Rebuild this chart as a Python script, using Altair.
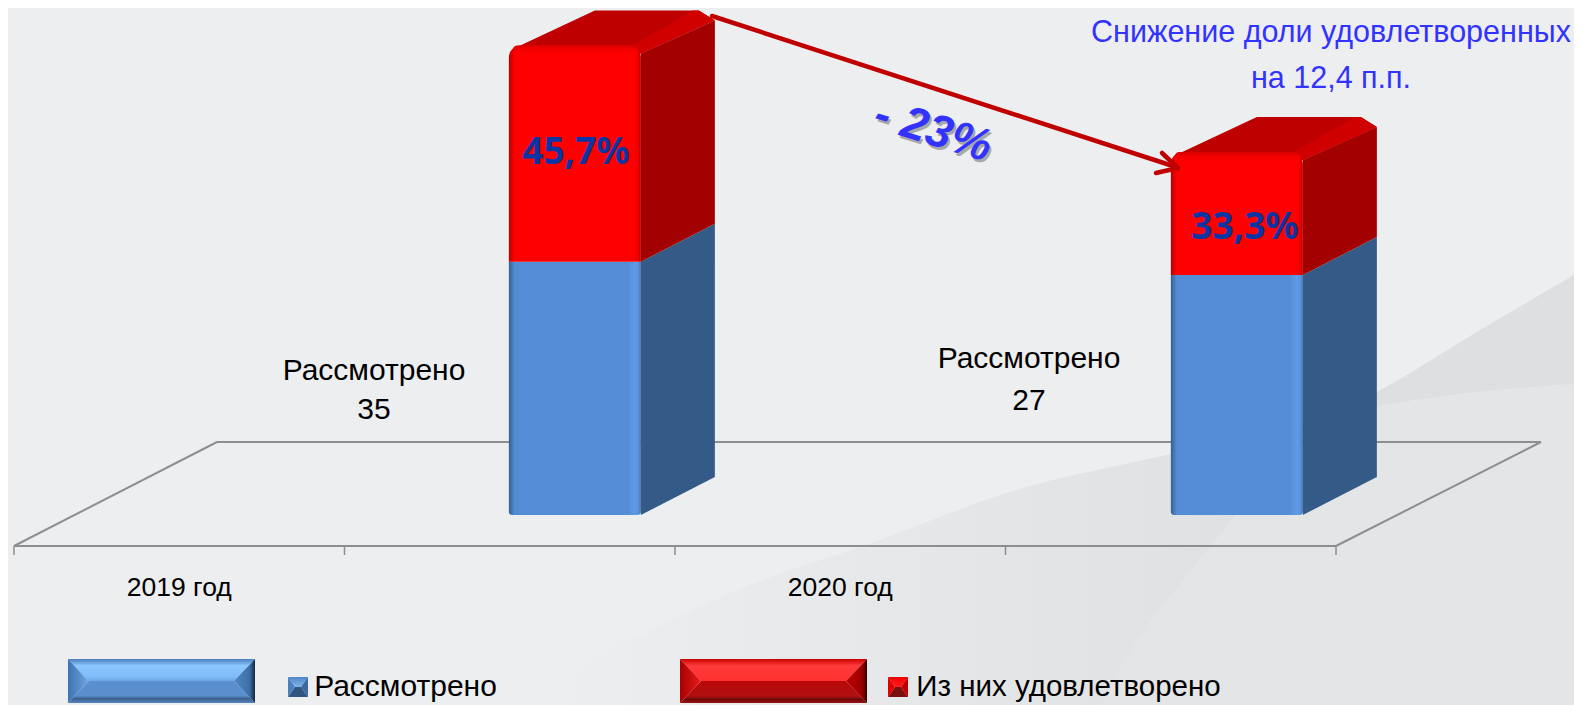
import altair as alt
import pandas as pd

# --- values ---
CATEGORIES = ["2019 год", "", "2020 год", ""]
BAR_SLOT = [1.697, 3.700]
REVIEWED = [35, 27]
SATISFIED = [16, 9]
PERCENT_LABELS = ["45,7%", "33,3%"]
SERIES = ["Рассмотрено", "Из них удовлетворено"]
NOTE_LINES = ["Снижение доли удовлетворенных", "на 12,4 п.п."]
CHANGE_LABEL = "- 23%"

W, H = 1566, 697
PX_CAT, PX_VAL = 330.5, 13.33
FONT = "Liberation Sans"
X = lambda px: (px - 14) / PX_CAT
Y = lambda py: (515 - py) / PX_VAL
XS = alt.Scale(domain=[X(8), X(8 + W)], range=[0, W], nice=False, zero=False)
YS = alt.Scale(domain=[Y(705), Y(8)], range=[H, 0], nice=False, zero=False)
ex = alt.X("x:Q", scale=XS, axis=None)
ey = alt.Y("y:Q", scale=YS, axis=None, stack=None)


def hgrad(*stops):
    return alt.LinearGradient(gradient="linear", x1=0, x2=1, y1=0, y2=0,
                              stops=[alt.GradientStop(offset=o, color=c) for o, c in stops])


def vgrad(*stops):
    return alt.LinearGradient(gradient="linear", x1=0, x2=0, y1=0, y2=1,
                              stops=[alt.GradientStop(offset=o, color=c) for o, c in stops])


def area(xs, ya, yb, fill, **kw):
    df = pd.DataFrame({"x": xs, "y": ya, "y2": yb})
    return alt.Chart(df).mark_area(color=fill, orient="vertical", **kw).encode(x=ex, y=ey, y2="y2:Q")


def rect(x0, x1, y0, y1, fill, **kw):
    df = pd.DataFrame({"x": [x0], "x2": [x1], "y": [y0], "y2": [y1]})
    return alt.Chart(df).mark_rect(color=fill, **kw).encode(x=ex, x2="x2:Q", y=ey, y2="y2:Q")


def line(x0, y0, x1, y1, color, width, **kw):
    df = pd.DataFrame({"x": [x0, x1], "y": [y0, y1], "o": [0, 1]})
    return alt.Chart(df).mark_line(color=color, strokeWidth=width, **kw).encode(x=ex, y=ey, order="o:Q")


def text(x, y, s, size, color="#000000", font=FONT, **kw):
    df = pd.DataFrame({"x": [x], "y": [y], "t": [s]})
    return alt.Chart(df).mark_text(fontSize=size, color=color, font=font, align="center",
                                   baseline="middle", **kw).encode(x=ex, y=ey, text="t:N")


def bevel(x0, x1, xi, xj, y0, y1, yc, top, left, right, bottom):
    a, b = X(x0), X(x1)
    ai, bj = X(xi), X(xj)
    t, u, c = Y(y0), Y(y1), Y(yc)
    return [
        area([a, ai, bj, b], [t, c, c, t], [t, t, t, t], top),
        area([a, ai, bj, b], [u, c, c, u], [u, u, u, u], bottom),
        area([a, ai], [t, c], [u, c], left),
        area([bj, b], [c, t], [c, u], right),
    ]


layers = []

# slide background swooshes
base_x = [560, 755, 866, 1016, 1166, 1375, 1574]
base_y = [677, 583, 545, 490, 455, 407, 384]
layers.append(area([X(v) for v in base_x], [Y(v) for v in base_y], [Y(705)] * 7,
                   hgrad((0, "#edeef0"), (0.35, "#e6e7e9"), (0.7, "#dfe0e2"), (1, "#dfe0e2")),
                   interpolate="monotone"))
right_x = [1101, 1130, 1175, 1238, 1300, 1320, 1375, 1480, 1574]
right_y = [705, 650, 590, 513, 440, 420, 407, 392, 384]
layers.append(area([X(v) for v in right_x], [Y(v) for v in right_y], [Y(705)] * 9,
                   "#e4e5e7", interpolate="monotone"))
band_x = [1320, 1375, 1480, 1574]
layers.append(area([X(v) for v in band_x], [Y(v) for v in [420, 393, 330, 275]],
                   [Y(v) for v in [420, 407, 392, 384]], "#dedfe1", interpolate="monotone"))

# floor of the 3D chart
AX = "#8e8e8e"
FY, BY = Y(546), Y(442)
DX_FLOOR = 203 / PX_CAT
n = len(CATEGORIES)
layers.append(line(0, FY, n, FY, AX, 2))
layers.append(line(0, FY, DX_FLOOR, BY, AX, 2))
layers.append(line(DX_FLOOR, BY, X(1541), BY, AX, 2))
layers.append(line(n, FY, X(1541), BY, AX, 2))
for i in range(n + 1):
    layers.append(line(i, FY, i, Y(555), AX, 1.5))
for i, c in enumerate(CATEGORIES):
    if c:
        layers.append(text(i + 0.5, Y(588), c, 26.5))

# 3D stacked bars
BAR_W = 132 / PX_CAT
DX, DY = 74 / PX_CAT, 38 / PX_VAL
P, Q = 1 / PX_VAL, 1 / PX_CAT
BV = 3 * P
BLUE_F = hgrad((0, "#34608f"), (0.045, "#548cd6"), (0.09, "#548cd6"), (0.9, "#548cd6"), (0.955, "#609be8"), (0.985, "#5a90d8"), (1, "#40699c"))
RED_F = hgrad((0, "#b80000"), (0.045, "#ff0000"), (0.94, "#ff0000"), (0.98, "#f00000"), (1, "#b00000"))
for s, rev, sat in zip(BAR_SLOT, REVIEWED, SATISFIED):
    a, b, c = s - BAR_W / 2, s + BAR_W / 2, s + BAR_W / 2 + DX
    blue = rev - sat
    # side faces
    layers.append(area([b, c], [0, DY], [blue, blue + DY], "#345a88"))
    layers.append(area([b, c], [blue, blue + DY], [rev - 5 * P, rev + DY - 10 * P], "#a30000"))
    # top face, chamfered at its corners
    low = lambda x: rev - 5 * P + (x - b) / (c - b) * (DY - 5 * P)
    d = a + DX
    x1, x2, x3 = a + 5 * Q, d + 12 * Q, c - 16 * Q
    layers.append(area([x1, x2, b, x3, c],
                       [rev, rev, low(b), low(x3), low(c)],
                       [rev, rev + DY, rev + DY, rev + DY, low(c)], "#bf0000"))
    e = b - 14 * Q
    g = c - 22 * Q
    layers.append(area([e, b, g, x3, c],
                       [rev, low(b), low(g), low(x3), low(c)],
                       [rev, rev + DY * 14 / 66, rev + DY, rev + DY, low(c)], "#d00000"))
    # front faces
    layers.append(rect(a, b, 0, blue, BLUE_F, cornerRadiusBottomLeft=3, cornerRadiusBottomRight=3))
    layers.append(rect(a, b, blue, rev + BV, RED_F, cornerRadiusTopLeft=12, cornerRadiusTopRight=12))
    layers.append(rect(a + 0.012, b - 0.012, rev + BV, rev - 2 * BV,
                       vgrad((0, "#d80000"), (0.4, "#f00000"), (1, "#ff0000")),
                       cornerRadiusTopLeft=12, cornerRadiusTopRight=12))

# percent labels in the red parts
for px, py, lab in zip([576, 1245], [153, 228], PERCENT_LABELS):
    layers.append(text(X(px), Y(py), lab, 37, color="#0a35a5", font="Noto Sans", fontWeight="bold"))

# value notes left of bars
for px, py1, py2, rev in zip([374, 1029], [371, 359], [410, 401], REVIEWED):
    layers.append(text(X(px), Y(py1), SERIES[0], 30))
    layers.append(text(X(px), Y(py2), str(rev), 30))

# arrow
AR = "#c00000"
layers.append(line(X(712), Y(16), X(1176), Y(167), AR, 4.5, strokeCap="round"))
layers.append(line(X(1162), Y(153), X(1178), Y(168), AR, 4.5, strokeCap="round"))
layers.append(line(X(1156), Y(173), X(1178), Y(168), AR, 4.5, strokeCap="round"))

# change label with shadow
layers.append(text(X(935), Y(134), CHANGE_LABEL, 46, color="#6e6e6e", font=FONT,
                   fontWeight="bold", fontStyle="italic", angle=17, opacity=0.55))
layers.append(text(X(933), Y(131), CHANGE_LABEL, 46, color="#3333ff", font=FONT,
                   fontWeight="bold", fontStyle="italic", angle=17))

# headline note
layers.append(text(X(1331), Y(33), NOTE_LINES[0], 30.5, color="#3333ff"))
layers.append(text(X(1331), Y(79), NOTE_LINES[1], 30.5, color="#3333ff"))

# legend
layers += bevel(68, 255, 88.5, 234, 659, 703, 681,
                vgrad((0, "#4a7dbd"), (0.3, "#8cc6ff"), (0.8, "#80bcf8"), (1, "#6ba6e6")),
                hgrad((0, "#3f72b0"), (1, "#6fa4e2")),
                hgrad((0, "#4f86c6"), (0.75, "#3f6da6"), (1, "#12283f")),
                vgrad((0, "#5a90d0"), (0.68, "#5a8ecd"), (0.8, "#3d5f8a"), (1, "#5486c0")))
layers += bevel(288, 308, 295, 301, 677, 697, 687,
                vgrad((0, "#4f86c8"), (1, "#7fb4ec")), "#4a7fbc", "#3d6a9e", "#2f5580")
layers.append(text(X(405.5), Y(687), SERIES[0], 30))
layers += bevel(680, 867, 701, 846, 659, 703, 681,
                vgrad((0, "#c80000"), (0.3, "#ff3a3a"), (1, "#ff3030")),
                hgrad((0, "#a80000"), (1, "#e81c1c")),
                hgrad((0, "#c00000"), (0.75, "#9c0000"), (1, "#300000")),
                vgrad((0, "#b80808"), (0.68, "#b01010"), (0.85, "#6a0a0a"), (1, "#a01010")))
layers += bevel(888, 908, 895, 901, 677, 697, 687,
                vgrad((0, "#f00000"), (1, "#ff2020")), "#e00000", "#c00000", "#7a1010")
layers.append(text(X(1068.5), Y(687), SERIES[1], 29.5))

chart = alt.layer(*layers).properties(
    width=W, height=H, background="#edeef0", padding=0,
    autosize=alt.AutoSizeParams(type="none"),
).configure_view(stroke=None)

chart.save("out.html", embed_options={"renderer": "svg", "actions": False})
